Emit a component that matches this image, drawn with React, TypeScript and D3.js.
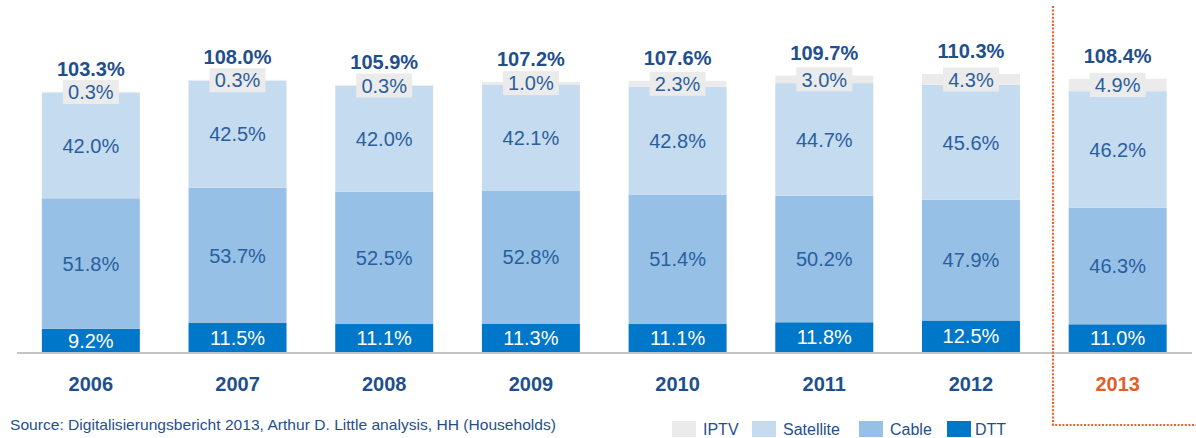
import React from "react";
import * as d3 from "d3";

const years = ["2006", "2007", "2008", "2009", "2010", "2011", "2012", "2013"];
const dtt = [9.2, 11.5, 11.1, 11.3, 11.1, 11.8, 12.5, 11.0];
const cable = [51.8, 53.7, 52.5, 52.8, 51.4, 50.2, 47.9, 46.3];
const satellite = [42.0, 42.5, 42.0, 42.1, 42.8, 44.7, 45.6, 46.2];
const iptv = [0.3, 0.3, 0.3, 1.0, 2.3, 3.0, 4.3, 4.9];
const totals = ["103.3%", "108.0%", "105.9%", "107.2%", "107.6%", "109.7%", "110.3%", "108.4%"];
const seriesNames = ["IPTV", "Satellite", "Cable", "DTT"];

const W = 1196;
const H = 438;
const FONT = "'Liberation Sans', Arial, sans-serif";

const colors: Record<string, string> = {
  DTT: "#0077c8",
  Cable: "#96c0e6",
  Satellite: "#c5dbf0",
  IPTV: "#ebebeb",
};

export default function App() {
  const baseline = 352;
  const x = d3
    .scaleBand<string>()
    .domain(years)
    .range([17.5, 1191])
    .paddingInner(0.332)
    .paddingOuter(0.166);
  const y = d3.scaleLinear().domain([0, 100]).range([baseline, 100]);

  const rows = years.map((yr, i) => ({
    year: yr,
    DTT: dtt[i],
    Cable: cable[i],
    Satellite: satellite[i],
    IPTV: iptv[i],
  }));
  const stack = d3.stack<any>().keys(["DTT", "Cable", "Satellite", "IPTV"]);
  const layers = stack(rows);

  const labelColor = "#2a5f9e";
  const boldColor = "#1f4f8c";

  const legendX: Record<string, [number, number]> = {
    IPTV: [672, 703],
    Satellite: [752, 783],
    Cable: [859, 890],
    DTT: [947, 975],
  };

  return (
    <svg width={W} height={H} style={{ position: "absolute", left: 0, top: 0 }} fontFamily={FONT}>
      <rect x={0} y={0} width={W} height={H} fill="#fff" />
      {layers.map((layer) => (
        <g key={layer.key}>
          {layer.map((d, i) => (
            <rect
              key={i}
              x={x(years[i])}
              width={x.bandwidth()}
              y={y(d[1])}
              height={y(d[0]) - y(d[1])}
              fill={colors[layer.key]}
            />
          ))}
        </g>
      ))}
      {layers.map((layer) => (
        <g key={"l" + layer.key}>
          {layer.map((d, i) => {
            const cx = (x(years[i]) as number) + x.bandwidth() / 2;
            const cy = (y(d[0]) + y(d[1])) / 2;
            const val = (d[1] - d[0]).toFixed(1) + "%";
            if (layer.key === "IPTV") {
              return (
                <g key={i}>
                  <rect x={cx - 28} y={cy - 12} width={56} height={24} fill={colors.IPTV} />
                  <text x={cx} y={cy} dy="0.36em" textAnchor="middle" fontSize={20} fill={labelColor}>
                    {val}
                  </text>
                </g>
              );
            }
            return (
              <text
                key={i}
                x={cx}
                y={cy}
                dy="0.36em"
                textAnchor="middle"
                fontSize={20}
                fill={layer.key === "DTT" ? "#ffffff" : labelColor}
              >
                {val}
              </text>
            );
          })}
        </g>
      ))}
      {layers[3].map((d, i) => (
        <text
          key={"t" + i}
          x={(x(years[i]) as number) + x.bandwidth() / 2}
          y={y(d[1]) - 16}
          textAnchor="middle"
          fontSize={20}
          fontWeight="bold"
          fill={boldColor}
        >
          {totals[i]}
        </text>
      ))}
      <line x1={17} x2={1192} y1={baseline + 1} y2={baseline + 1} stroke="#c4c4c4" strokeWidth={2} />
      {years.map((yr, i) => (
        <text
          key={"y" + yr}
          x={(x(yr) as number) + x.bandwidth() / 2}
          y={391}
          textAnchor="middle"
          fontSize={20}
          fontWeight="bold"
          fill={i === years.length - 1 ? "#e0602a" : boldColor}
        >
          {yr}
        </text>
      ))}
      <path
        d="M1053,6 L1053,425 L1196,425"
        fill="none"
        stroke="#e8632b"
        strokeWidth={2.2}
        strokeDasharray="2 1.6"
      />
      <text x={10} y={430} fontSize={15} fill={boldColor} textLength={546} lengthAdjust="spacingAndGlyphs">
        Source: Digitalisierungsbericht 2013, Arthur D. Little analysis, HH (Households)
      </text>
      {seriesNames.map((name) => (
        <g key={name}>
          <rect x={legendX[name][0]} y={421} width={24} height={16} fill={colors[name]} />
          <text x={legendX[name][1]} y={435} fontSize={16} fill={boldColor}>
            {name}
          </text>
        </g>
      ))}
    </svg>
  );
}
